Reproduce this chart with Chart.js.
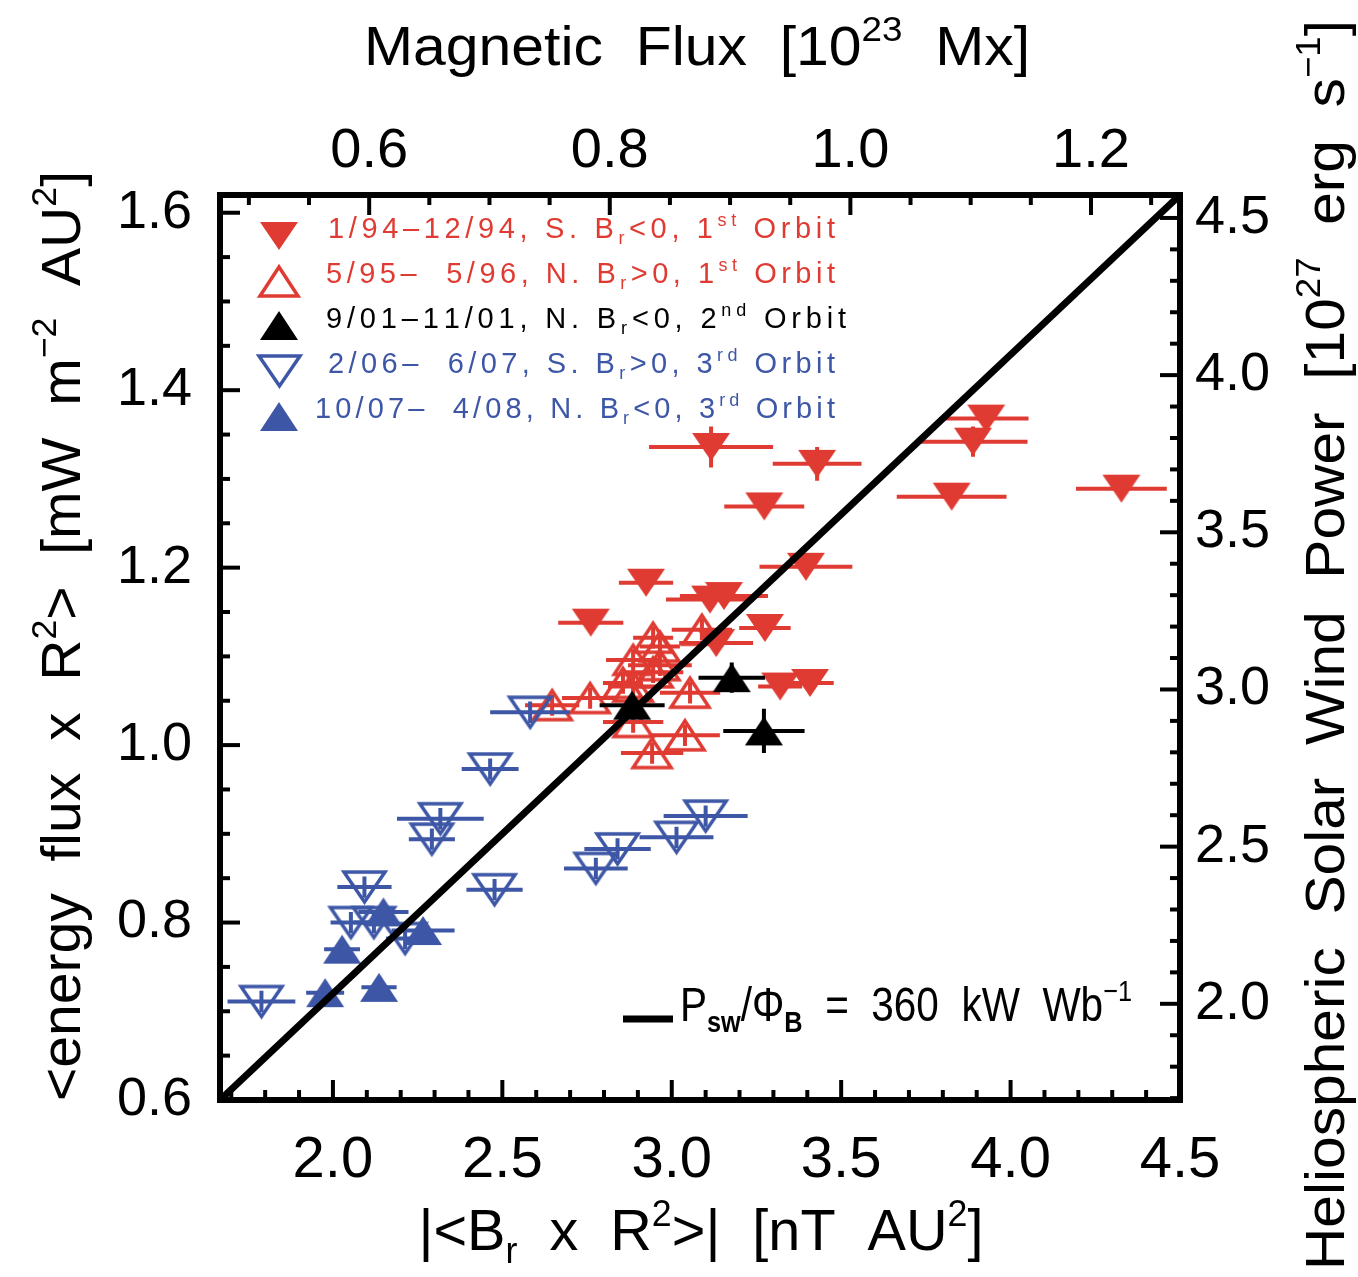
<!DOCTYPE html>
<html><head><meta charset="utf-8">
<script src="https://cdn.jsdelivr.net/npm/chart.js@4.4.0/dist/chart.umd.min.js"></script>
<style>html,body{margin:0;padding:0;background:#fff;}canvas{display:block;}</style>
</head><body>
<canvas id="c" width="1358" height="1277"></canvas>
<script>
// ---------------- DATA ----------------
// 1/94-12/94, S. Br<0, 1st orbit (filled red, down)
const s1X    = [3.116, 3.429, 3.273, 3.928, 3.889, 3.826, 4.327, 3.396, 2.924, 2.761, 3.113, 3.154, 3.275, 3.131, 3.320, 3.408];
const s1Y    = [1.336, 1.317, 1.269, 1.368, 1.342, 1.280, 1.289, 1.201, 1.183, 1.138, 1.164, 1.168, 1.132, 1.115, 1.066, 1.070];
const s1Xerr = [0.183, 0.131, 0.118, 0.125, 0.161, 0.162, 0.134, 0.137, 0.080, 0.096, 0.130, 0.130, 0.076, 0.109, 0.065, 0.070];
const s1Yerr = [0.023, 0.019, 0.008, 0.008, 0.017, 0.008, 0.008, 0.008, 0.008, 0.008, 0.008, 0.008, 0.008, 0.008, 0.008, 0.008];
// 5/95-5/96, N. Br>0, 1st orbit (open red, up)
const s2X    = [3.089, 2.945, 2.965, 2.886, 2.965, 2.945, 2.856, 2.886, 2.759, 2.647, 3.054, 2.886, 3.039, 2.942];
const s2Y    = [1.130, 1.121, 1.111, 1.096, 1.090, 1.082, 1.070, 1.066, 1.053, 1.045, 1.059, 1.026, 1.011, 0.991];
const s2Xerr = [0.089, 0.059, 0.059, 0.080, 0.094, 0.089, 0.059, 0.074, 0.083, 0.080, 0.089, 0.089, 0.103, 0.092];
const s2Yerr = [0.012, 0.012, 0.012, 0.012, 0.012, 0.012, 0.012, 0.012, 0.012, 0.012, 0.012, 0.012, 0.012, 0.012];
// 9/01-11/01, N. Br<0, 2nd orbit (filled black, up)
const s3X    = [2.883, 3.177, 3.272];
const s3Y    = [1.045, 1.076, 1.016];
const s3Xerr = [0.096, 0.098, 0.120];
const s3Yerr = [0.010, 0.017, 0.025];
// 2/06-6/07, S. Br>0, 3rd orbit (open blue, down)
const s4X    = [2.464, 2.317, 2.292, 2.093, 2.053, 2.121, 2.213, 2.477, 2.776, 2.840, 3.014, 3.100, 1.789, 2.582];
const s4Y    = [0.973, 0.917, 0.894, 0.840, 0.800, 0.800, 0.782, 0.837, 0.861, 0.883, 0.896, 0.920, 0.711, 1.037];
const s4Xerr = [0.084, 0.128, 0.068, 0.080, 0.060, 0.060, 0.056, 0.083, 0.094, 0.098, 0.109, 0.124, 0.100, 0.118];
const s4Yerr = [0.012, 0.012, 0.012, 0.012, 0.012, 0.012, 0.012, 0.012, 0.012, 0.012, 0.012, 0.012, 0.012, 0.012];
// 10/07-4/08, N. Br<0, 3rd orbit (filled blue, up)
const s5X    = [2.149, 2.266, 2.027, 1.977, 2.136];
const s5Y    = [0.812, 0.791, 0.770, 0.721, 0.727];
const s5Xerr = [0.074, 0.093, 0.053, 0.056, 0.052];
const s5Yerr = [0.008, 0.008, 0.008, 0.008, 0.008];
// P_sw / Phi_B = 360 kW/Wb reference line
const fitX = [1.6667, 4.5];
const fitY = [0.6, 1.62];

const seriesLabels = [
  '1/94\u201312/94, S. B_{r}<0, 1^{st} Orbit',
  '5/95\u2013  5/96, N. B_{r}>0, 1^{st} Orbit',
  '9/01\u201311/01, N. B_{r}<0, 2^{nd} Orbit',
  '2/06\u2013  6/07, S. B_{r}>0, 3^{rd} Orbit',
  '10/07\u2013  4/08, N. B_{r}<0, 3^{rd} Orbit'
];
const fitLabel = 'P_{sw}/\u03A6_{B}  =  360  kW  Wb^{\u22121}';

const xTicks  = [2.0, 2.5, 3.0, 3.5, 4.0, 4.5];
const x2Ticks = [0.6, 0.8, 1.0, 1.2];
const yTicks  = [0.6, 0.8, 1.0, 1.2, 1.4, 1.6];
const y2Ticks = [2.0, 2.5, 3.0, 3.5, 4.0, 4.5];

const titleTop    = 'Magnetic  Flux  [10^{23}  Mx]';
const titleBottom = '|<B_{r}  x  R^{2}>|  [nT  AU^{2}]';
const titleLeft   = '<energy  flux  x  R^{2}>  [mW  m^{\u22122}  AU^{2}]';
const titleRight  = 'Heliospheric  Solar  Wind  Power  [10^{27}  erg  s^{\u22121}]';

// ---------------- STYLE ----------------
const RED = '#df3b32', BLUE = '#3d57a6', BLACK = '#000000';
const FONT = '"Liberation Sans", Arial, sans-serif';

function tri(color, filled, up, w, h, lw) {
  const pad = Math.ceil(lw) + 1;
  const c = document.createElement('canvas');
  c.width = w + 2 * pad; c.height = h + 2 * pad;
  const g = c.getContext('2d');
  g.beginPath();
  if (up) { g.moveTo(pad + w / 2, pad); g.lineTo(pad + w, pad + h); g.lineTo(pad, pad + h); }
  else { g.moveTo(pad, pad); g.lineTo(pad + w, pad); g.lineTo(pad + w / 2, pad + h); }
  g.closePath();
  if (filled) { g.fillStyle = color; g.fill(); }
  else { g.strokeStyle = color; g.lineWidth = lw; g.lineJoin = 'miter'; g.stroke(); }
  return c;
}
const sym = [
  tri(RED, true, false, 38, 28, 0),
  tri(RED, false, true, 38, 29, 3.5),
  tri(BLACK, true, true, 38, 29, 0),
  tri(BLUE, false, false, 41, 30, 3.5),
  tri(BLUE, true, true, 38, 29, 0)
];
const colors = [RED, RED, BLACK, BLUE, BLUE];

function pts(xs, ys) { return xs.map((x, i) => ({ x: x, y: ys[i] })); }

// ---------------- RICH TEXT ----------------
function segs(str) {
  const out = []; const re = /([_^])\{([^}]*)\}/g; let last = 0, m;
  while ((m = re.exec(str))) {
    if (m.index > last) out.push({ t: str.slice(last, m.index), k: 'n' });
    out.push({ t: m[2], k: m[1] === '_' ? 'sub' : 'sup' });
    last = re.lastIndex;
  }
  if (last < str.length) out.push({ t: str.slice(last), k: 'n' });
  return out;
}
function fontFor(g, size, bold) {
  const b = (bold && g.k === 'sub') ? 'bold ' : '';
  return b + (g.k === 'n' ? size : Math.round(size * 0.62)) + 'px ' + FONT;
}
// o.width: target width; o.mode 'scale' (stretch glyphs) or 'space' (letter spacing)
function drawRich(ctx, str, x, y, size, color, o) {
  o = o || {};
  const s = segs(str);
  let nat = 0, nch = 0;
  for (const g of s) { ctx.font = fontFor(g, size, o.boldSub); nat += ctx.measureText(g.t).width; nch += g.t.length; }
  let sx = 1, extra = 0;
  if (o.width) {
    if (o.mode === 'space' && o.width > nat) extra = (o.width - nat) / Math.max(1, nch - 1);
    else sx = o.width / nat;
  }
  const total = nat + extra * (nch - 1);
  ctx.save();
  ctx.translate(x, y);
  if (o.rotate) ctx.rotate(o.rotate);
  ctx.scale(sx, 1);
  let cx = o.align === 'center' ? -total / 2 : 0;
  ctx.fillStyle = color; ctx.textAlign = 'left'; ctx.textBaseline = 'alphabetic';
  for (const g of s) {
    ctx.font = fontFor(g, size, o.boldSub);
    const dy = g.k === 'sup' ? -0.42 * size : (g.k === 'sub' ? 0.22 * size : 0);
    if (extra === 0) { ctx.fillText(g.t, cx, dy); cx += ctx.measureText(g.t).width; }
    else {
      for (const ch of g.t) { ctx.fillText(ch, cx, dy); cx += ctx.measureText(ch).width + extra; }
    }
  }
  ctx.restore();
}

// ---------------- PLUGINS ----------------
const errorBars = {
  id: 'errorBars',
  beforeDatasetDraw(chart, args) {
    const ds = chart.data.datasets[args.index];
    if (!ds.xErr) return;
    const ctx = chart.ctx, xs = chart.scales.x, ys = chart.scales.y;
    ctx.save();
    ctx.strokeStyle = ds.errColor; ctx.lineWidth = 4; ctx.lineCap = 'butt';
    ds.data.forEach((p, i) => {
      const px = xs.getPixelForValue(p.x), py = ys.getPixelForValue(p.y);
      const x0 = xs.getPixelForValue(p.x - ds.xErr[i]), x1 = xs.getPixelForValue(p.x + ds.xErr[i]);
      const y0 = ys.getPixelForValue(p.y - ds.yErr[i]), y1 = ys.getPixelForValue(p.y + ds.yErr[i]);
      ctx.beginPath();
      ctx.moveTo(x0, py); ctx.lineTo(x1, py);
      ctx.moveTo(px, y0); ctx.lineTo(px, y1);
      ctx.stroke();
    });
    ctx.restore();
  }
};

const frame = {
  id: 'frame',
  afterDraw(chart) {
    const ctx = chart.ctx, a = chart.chartArea;
    ctx.save();
    ctx.strokeStyle = BLACK;
    ctx.lineWidth = 4;
    function ticks(scale, side, step, major) {
      const k0 = Math.ceil(scale.min / step - 1e-9), k1 = Math.floor(scale.max / step + 1e-9);
      for (let k = k0; k <= k1; k++) {
        const v = k * step;
        const isMajor = Math.abs(v / major - Math.round(v / major)) < 1e-6;
        const len = isMajor ? 20 : 10;
        const p = scale.getPixelForValue(v);
        ctx.beginPath();
        if (side === 'bottom') { ctx.moveTo(p, a.bottom); ctx.lineTo(p, a.bottom - len); }
        if (side === 'top') { ctx.moveTo(p, a.top); ctx.lineTo(p, a.top + len); }
        if (side === 'left') { ctx.moveTo(a.left, p); ctx.lineTo(a.left + len, p); }
        if (side === 'right') { ctx.moveTo(a.right, p); ctx.lineTo(a.right - len, p); }
        ctx.stroke();
      }
    }
    ticks(chart.scales.x, 'bottom', 0.1, 0.5);
    ticks(chart.scales.x2, 'top', 0.05, 0.2);
    ticks(chart.scales.y, 'left', 0.05, 0.2);
    ticks(chart.scales.y2, 'right', 0.1, 0.5);
    ctx.lineWidth = 6;
    ctx.strokeRect(a.left, a.top, a.right - a.left, a.bottom - a.top);
    ctx.restore();

    // axis titles
    drawRich(ctx, titleTop, 697, 65, 56, BLACK, { align: 'center', width: 666 });
    drawRich(ctx, titleBottom, 701, 1250, 58, BLACK, { align: 'center', width: 565 });
    drawRich(ctx, titleLeft, 80, 636, 56, BLACK, { align: 'center', width: 930, rotate: -Math.PI / 2 });
    drawRich(ctx, titleRight, 1344, 645, 56, BLACK, { align: 'center', width: 1250, rotate: -Math.PI / 2 });

    // legend
    const lgY = [238, 283, 328, 373, 418];
    const lgSymY = [236, 281, 325, 371, 416];
    const lgX = [328, 326, 326, 328, 315];
    const lgW = [507, 509, 518, 507, 520];
    for (let i = 0; i < seriesLabels.length; i++) {
      const im = sym[i];
      ctx.drawImage(im, Math.round(279 - im.width / 2), Math.round(lgSymY[i] - im.height / 2));
      drawRich(ctx, seriesLabels[i], lgX[i], lgY[i], 29, colors[i], { width: lgW[i], mode: 'space' });
    }
    // fit line label
    ctx.save();
    ctx.strokeStyle = BLACK; ctx.lineWidth = 7;
    ctx.beginPath(); ctx.moveTo(623, 1019); ctx.lineTo(673, 1019); ctx.stroke();
    ctx.restore();
    drawRich(ctx, fitLabel, 680, 1021, 48, BLACK, { width: 452, boldSub: true });
  }
};

// ---------------- CHART ----------------
function mkDs(label, xs, ys, xe, ye, idx, order) {
  return {
    label: label, data: pts(xs, ys), xErr: xe, yErr: ye, errColor: colors[idx],
    pointStyle: sym[idx], pointRadius: 14, pointHoverRadius: 14, showLine: false,
    xAxisID: 'x', yAxisID: 'y', order: order
  };
}
const fmt = v => Number(v).toFixed(1);
function fixTicks(arr) { return s => { s.ticks = arr.map(v => ({ value: v })); }; }

new Chart(document.getElementById('c'), {
  type: 'scatter',
  data: {
    datasets: [
      { label: 'fit', data: pts(fitX, fitY), showLine: true, borderColor: BLACK, borderWidth: 7,
        pointRadius: 0, fill: false, xAxisID: 'x', yAxisID: 'y', order: 0 },
      mkDs(seriesLabels[4], s5X, s5Y, s5Xerr, s5Yerr, 4, 1),
      mkDs(seriesLabels[3], s4X, s4Y, s4Xerr, s4Yerr, 3, 2),
      mkDs(seriesLabels[2], s3X, s3Y, s3Xerr, s3Yerr, 2, 3),
      mkDs(seriesLabels[1], s2X, s2Y, s2Xerr, s2Yerr, 1, 4),
      mkDs(seriesLabels[0], s1X, s1Y, s1Xerr, s1Yerr, 0, 5)
    ]
  },
  options: {
    responsive: false, animation: false, devicePixelRatio: 1,
    layout: { padding: 0 },
    plugins: { legend: { display: false }, tooltip: { enabled: false } },
    events: [],
    scales: {
      x: { type: 'linear', position: 'bottom', min: 1.6667, max: 4.5,
        grid: { display: false, drawTicks: false }, border: { display: false },
        ticks: { autoSkip: false, maxRotation: 0, padding: 26, color: BLACK, font: { family: FONT, size: 58 }, callback: fmt },
        afterBuildTicks: fixTicks(xTicks), afterFit: s => { s.height = 177; } },
      x2: { type: 'linear', position: 'top', min: 0.476, max: 1.274,
        grid: { display: false, drawTicks: false }, border: { display: false },
        ticks: { autoSkip: false, maxRotation: 0, padding: 10, color: BLACK, font: { family: FONT, size: 56 }, callback: fmt },
        afterBuildTicks: fixTicks(x2Ticks), afterFit: s => { s.height = 195; } },
      y: { type: 'linear', position: 'left', min: 0.6, max: 1.62,
        grid: { display: false, drawTicks: false }, border: { display: false },
        ticks: { autoSkip: false, padding: 28, color: BLACK, font: { family: FONT, size: 54 }, callback: fmt },
        afterBuildTicks: fixTicks(yTicks), afterFit: s => { s.width = 220; } },
      y2: { type: 'linear', position: 'right', min: 1.694, max: 4.573,
        grid: { display: false, drawTicks: false }, border: { display: false },
        ticks: { autoSkip: false, padding: 15, color: BLACK, font: { family: FONT, size: 54 }, callback: fmt },
        afterBuildTicks: fixTicks(y2Ticks), afterFit: s => { s.width = 178; } }
    }
  },
  plugins: [errorBars, frame]
});
</script>
</body></html>
